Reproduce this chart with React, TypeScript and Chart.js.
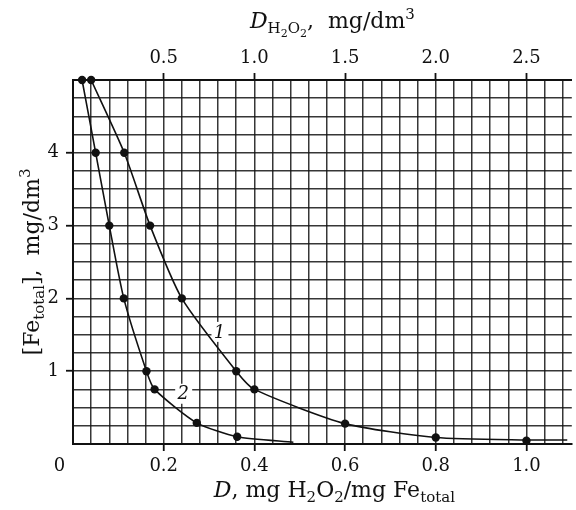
import { useEffect, useRef } from 'react';
import { Chart, registerables } from 'chart.js';

Chart.register(...registerables);

// ---------- data ----------
// bottom axis: D, mg H2O2 / mg Fe_total ; left axis: [Fe_total], mg/dm3
const curve1D = [0.04, 0.113, 0.17, 0.24, 0.36, 0.4, 0.6, 0.8, 1.0];
const curve1Fe = [5, 4, 3, 2, 1, 0.75, 0.28, 0.09, 0.045];
const curve1LineD = [0.04, 0.113, 0.17, 0.24, 0.36, 0.4, 0.6, 0.8, 1.0, 1.09];
const curve1LineFe = [5, 4, 3, 2, 1, 0.75, 0.28, 0.09, 0.055, 0.055];

const curve2D = [0.02, 0.05, 0.08, 0.112, 0.162, 0.18, 0.273, 0.362];
const curve2Fe = [5, 4, 3, 2, 1, 0.75, 0.29, 0.1];
const curve2LineD = [0.02, 0.05, 0.08, 0.112, 0.162, 0.18, 0.273, 0.362, 0.486];
const curve2LineFe = [5, 4, 3, 2, 1, 0.75, 0.29, 0.1, 0.025];

const bottomTickLabels = [0, 0.2, 0.4, 0.6, 0.8, 1.0];
const topTickLabels = [0.5, 1.0, 1.5, 2.0, 2.5];
const leftTickLabels = [1, 2, 3, 4];
const curveNames = ['1', '2'];
const curveNamePosD = [0.323, 0.243];
const curveNamePosFe = [1.54, 0.69];

const X_MIN = 0;
const X_MAX = 1.1;
const Y_MIN = 0;
const Y_MAX = 5;
const X_GRID_STEP = 0.04;
const Y_GRID_STEP = 0.25;
const TOP_PER_BOTTOM = 2.5; // D_H2O2 (mg/dm3) per unit of D

// ---------- styling ----------
const FAM = '"DejaVu Serif", serif';
const FS = 18;
const TFS = 22;
const INK = '#111';
const GRID = 'rgba(20,20,20,0.85)';

const pts = (xs: number[], ys: number[]) => xs.map((x, i) => ({ x, y: ys[i] }));
const near = (v: number, arr: number[]) => arr.some((a) => Math.abs(a - v) < 1e-6);

type Seg = { t: string; it?: boolean; lvl?: number };

function drawRich(ctx: CanvasRenderingContext2D, segs: Seg[], cx: number, base: number) {
  const fontOf = (s: Seg) => {
    const lvl = s.lvl || 0;
    const size = lvl === 0 ? TFS : Math.abs(lvl) === 1 ? 15 : 11;
    return `${s.it ? 'italic ' : ''}${size}px ${FAM}`;
  };
  const dyOf = (s: Seg) => {
    const lvl = s.lvl || 0;
    if (lvl === 1) return 5;
    if (lvl === 2) return 9;
    if (lvl === -1) return -9;
    return 0;
  };
  let total = 0;
  const ws: number[] = [];
  for (const s of segs) {
    ctx.font = fontOf(s);
    const w = ctx.measureText(s.t).width;
    ws.push(w);
    total += w;
  }
  let x = cx - total / 2;
  ctx.textAlign = 'left';
  ctx.textBaseline = 'alphabetic';
  ctx.fillStyle = INK;
  segs.forEach((s, i) => {
    ctx.font = fontOf(s);
    ctx.fillText(s.t, x, base + dyOf(s));
    x += ws[i];
  });
}

const textPlugin = {
  id: 'richText',
  beforeDatasetsDraw(chart: any) {
    const ctx: CanvasRenderingContext2D = chart.ctx;
    const xs = chart.scales.x;
    const ys = chart.scales.y;
    ctx.save();
    curveNames.forEach((name, i) => {
      const px = xs.getPixelForValue(curveNamePosD[i]);
      const py = ys.getPixelForValue(curveNamePosFe[i]);
      ctx.fillStyle = '#fff';
      ctx.fillRect(px - 8, py - 10, 17, 20);
      ctx.fillStyle = INK;
      ctx.font = `italic ${FS}px ${FAM}`;
      ctx.textAlign = 'center';
      ctx.textBaseline = 'middle';
      ctx.fillText(name, px, py + 1);
    });
    ctx.restore();
  },
  afterDraw(chart: any) {
    const ctx: CanvasRenderingContext2D = chart.ctx;
    const area = chart.chartArea;
    const midX = (area.left + area.right) / 2;
    ctx.save();
    // top title
    drawRich(
      ctx,
      [
        { t: 'D', it: true },
        { t: 'H', lvl: 1 },
        { t: '2', lvl: 2 },
        { t: 'O', lvl: 1 },
        { t: '2', lvl: 2 },
        { t: ',  mg/dm' },
        { t: '3', lvl: -1 },
      ],
      midX + 10,
      28
    );
    // bottom title
    drawRich(
      ctx,
      [
        { t: 'D', it: true },
        { t: ', mg H' },
        { t: '2', lvl: 1 },
        { t: 'O' },
        { t: '2', lvl: 1 },
        { t: '/mg Fe' },
        { t: 'total', lvl: 1 },
      ],
      midX + 12,
      497
    );
    // left title (rotated)
    ctx.translate(39, (area.top + area.bottom) / 2);
    ctx.rotate(-Math.PI / 2);
    drawRich(
      ctx,
      [
        { t: '[Fe' },
        { t: 'total', lvl: 1 },
        { t: '],  mg/dm' },
        { t: '3', lvl: -1 },
      ],
      0,
      0
    );
    ctx.restore();
  },
};

export default function App() {
  const ref = useRef<HTMLCanvasElement | null>(null);

  useEffect(() => {
    if (!ref.current) return;
    const tickFont = { family: FAM, size: FS };
    const lineCommon = {
      showLine: true,
      borderColor: INK,
      borderWidth: 1.6,
      pointRadius: 0,
      tension: 0.22,
      xAxisID: 'x',
      yAxisID: 'y',
    };
    const dotCommon = {
      showLine: false,
      pointRadius: 4.2,
      pointBackgroundColor: INK,
      pointBorderWidth: 0,
      clip: false,
      xAxisID: 'x',
      yAxisID: 'y',
    };
    const chart = new Chart(ref.current, {
      type: 'scatter',
      data: {
        datasets: [
          { label: 'curve 1 line', data: pts(curve1LineD, curve1LineFe), ...lineCommon },
          { label: 'curve 2 line', data: pts(curve2LineD, curve2LineFe), ...lineCommon },
          { label: 'curve 1', data: pts(curve1D, curve1Fe), ...dotCommon },
          { label: 'curve 2', data: pts(curve2D, curve2Fe), ...dotCommon },
        ],
      } as any,
      options: {
        animation: false,
        responsive: false,
        events: [],
        layout: { padding: { left: 0, right: 1, top: 0, bottom: 0 } },
        plugins: { legend: { display: false }, tooltip: { enabled: false } },
        scales: {
          x: {
            type: 'linear',
            position: 'bottom',
            min: X_MIN,
            max: X_MAX,
            afterBuildTicks: (scale: any) => {
              const t = [];
              for (let i = 0; X_MIN + i * X_GRID_STEP <= X_MAX - 1e-9; i++) {
                t.push({ value: +(X_MIN + i * X_GRID_STEP).toFixed(4) });
              }
              scale.ticks = t;
            },
            afterFit: (scale: any) => {
              scale.height = 66;
            },
            ticks: {
              autoSkip: false,
              maxRotation: 0,
              padding: 5,
              color: INK,
              font: tickFont,
              callback: (v: any) => {
                const n = Number(v);
                if (!near(n, bottomTickLabels)) return '';
                if (n === 0) return '0\u2002\u2002\u2002';
                return n.toFixed(1);
              },
            },
            grid: {
              color: (c: any) => (c.tick && c.tick.value === 0 ? 'rgba(0,0,0,0)' : GRID),
              lineWidth: 1.5,
              tickLength: 7,
              tickWidth: 1.8,
              tickColor: (c: any) =>
                c.tick && c.tick.value > 0 && near(c.tick.value, bottomTickLabels) ? INK : 'rgba(0,0,0,0)',
            },
            border: { display: true, color: INK, width: 2 },
          },
          x2: {
            type: 'linear',
            position: 'top',
            min: X_MIN * TOP_PER_BOTTOM,
            max: X_MAX * TOP_PER_BOTTOM,
            afterBuildTicks: (scale: any) => {
              scale.ticks = topTickLabels.map((v) => ({ value: v }));
            },
            afterFit: (scale: any) => {
              scale.height = 80;
            },
            ticks: {
              autoSkip: false,
              maxRotation: 0,
              padding: 4,
              color: INK,
              font: tickFont,
              callback: (v: any) => Number(v).toFixed(1),
            },
            grid: {
              drawOnChartArea: false,
              tickLength: 7,
              tickWidth: 1.8,
              tickColor: INK,
              color: INK,
            },
            border: { display: true, color: INK, width: 2 },
          },
          y: {
            type: 'linear',
            position: 'left',
            min: Y_MIN,
            max: Y_MAX,
            afterBuildTicks: (scale: any) => {
              const t = [];
              for (let i = 0; Y_MIN + i * Y_GRID_STEP <= Y_MAX + 1e-9; i++) {
                t.push({ value: +(Y_MIN + i * Y_GRID_STEP).toFixed(4) });
              }
              scale.ticks = t;
            },
            afterFit: (scale: any) => {
              scale.width = 73;
            },
            ticks: {
              autoSkip: false,
              padding: 7,
              color: INK,
              font: tickFont,
              callback: (v: any) => (near(Number(v), leftTickLabels) ? String(Number(v)) : ''),
            },
            grid: {
              color: GRID,
              lineWidth: 1.5,
              tickLength: 7,
              tickWidth: 1.8,
              tickColor: (c: any) => (c.tick && near(c.tick.value, leftTickLabels) ? INK : 'rgba(0,0,0,0)'),
            },
            border: { display: true, color: INK, width: 2 },
          },
        },
      } as any,
      plugins: [textPlugin],
    });
    return () => chart.destroy();
  }, []);

  return (
    <div style={{ position: 'fixed', left: 0, top: 0, width: 576, height: 510, background: '#fff' }}>
      <canvas ref={ref} width={576} height={510} style={{ display: 'block', width: 576, height: 510 }} />
    </div>
  );
}
